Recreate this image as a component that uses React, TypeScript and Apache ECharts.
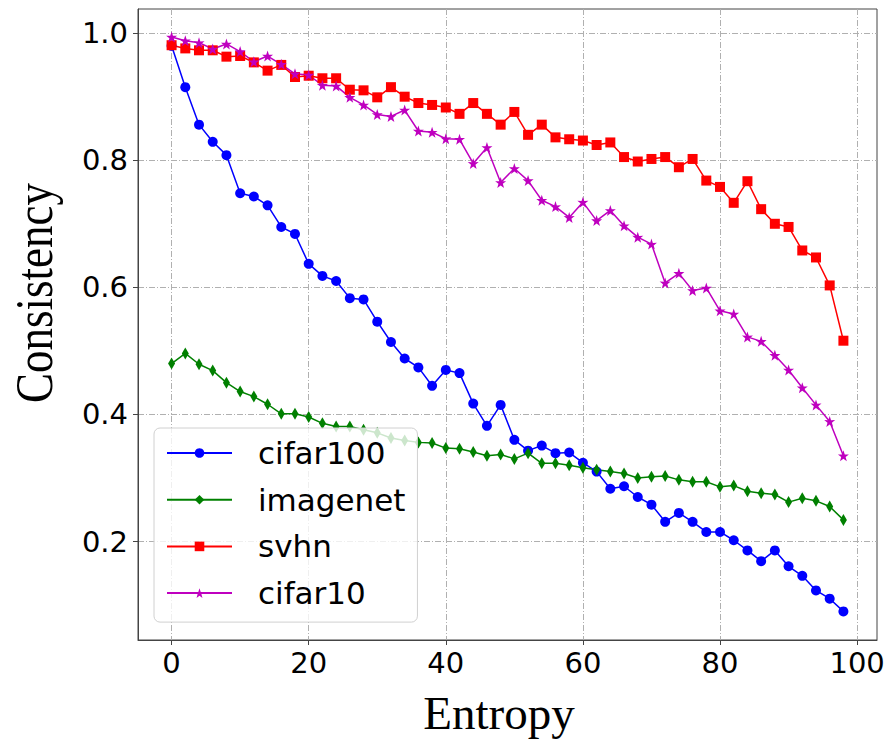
import React, { useEffect, useRef } from "react";
import * as echarts from "echarts";

const entropy = [0, 2, 4, 6, 8, 10, 12, 14, 16, 18, 20, 22, 24, 26, 28, 30, 32, 34, 36, 38, 40, 42, 44, 46, 48, 50, 52, 54, 56, 58, 60, 62, 64, 66, 68, 70, 72, 74, 76, 78, 80, 82, 84, 86, 88, 90, 92, 94, 96, 98];

const cifar100 = [0.980, 0.915, 0.856, 0.829, 0.808, 0.748, 0.743, 0.729, 0.695, 0.684, 0.637, 0.618, 0.610, 0.583, 0.581, 0.546, 0.514, 0.488, 0.474, 0.445, 0.470, 0.465, 0.417, 0.382, 0.415, 0.360, 0.343, 0.351, 0.339, 0.340, 0.324, 0.310, 0.283, 0.287, 0.270, 0.258, 0.231, 0.245, 0.231, 0.215, 0.215, 0.202, 0.186, 0.169, 0.186, 0.161, 0.146, 0.123, 0.110, 0.090];

const imagenet = [0.480, 0.496, 0.479, 0.469, 0.450, 0.436, 0.428, 0.416, 0.401, 0.401, 0.396, 0.386, 0.381, 0.381, 0.376, 0.371, 0.363, 0.359, 0.356, 0.355, 0.347, 0.346, 0.341, 0.335, 0.337, 0.330, 0.339, 0.323, 0.323, 0.320, 0.316, 0.313, 0.310, 0.307, 0.300, 0.302, 0.303, 0.297, 0.294, 0.294, 0.286, 0.288, 0.279, 0.276, 0.274, 0.262, 0.268, 0.264, 0.255, 0.234];

const svhn = [0.981, 0.976, 0.973, 0.973, 0.963, 0.964, 0.954, 0.941, 0.950, 0.931, 0.933, 0.929, 0.929, 0.911, 0.910, 0.899, 0.915, 0.900, 0.890, 0.887, 0.883, 0.873, 0.890, 0.873, 0.856, 0.876, 0.840, 0.856, 0.836, 0.833, 0.831, 0.824, 0.828, 0.805, 0.798, 0.802, 0.805, 0.789, 0.802, 0.768, 0.758, 0.733, 0.767, 0.723, 0.700, 0.695, 0.658, 0.647, 0.603, 0.516];

const cifar10 = [0.994, 0.988, 0.985, 0.975, 0.983, 0.971, 0.955, 0.964, 0.951, 0.936, 0.934, 0.918, 0.917, 0.899, 0.887, 0.872, 0.869, 0.879, 0.846, 0.844, 0.834, 0.833, 0.795, 0.820, 0.765, 0.787, 0.768, 0.737, 0.727, 0.710, 0.734, 0.705, 0.721, 0.697, 0.679, 0.668, 0.607, 0.622, 0.595, 0.599, 0.563, 0.558, 0.522, 0.515, 0.493, 0.470, 0.442, 0.415, 0.389, 0.335];

const xTicks = [0, 20, 40, 60, 80, 100];
const yTicks = [0.2, 0.4, 0.6, 0.8, 1.0];

const seriesNames = ["cifar100", "imagenet", "svhn", "cifar10"];

const STAR = "path://M50,0 L61.8,35.1 L97.6,34.5 L69,56.1 L79.4,90.5 L50,70 L20.6,90.5 L31,56.1 L2.4,34.5 L38.2,35.1 Z";

function pairs(ys: number[]) {
  return entropy.map((x, i) => [x, ys[i]]);
}

export default function App() {
  const ref = useRef<HTMLDivElement>(null);
  useEffect(() => {
    if (!ref.current) return;
    const chart = echarts.init(ref.current, null, { renderer: "svg" });
    const tickFont = { fontFamily: "DejaVu Sans", fontSize: 29, color: "#000" };
    const frame = "#444";
    const gridLine = { color: "#b0b0b0", width: 1, type: [6, 2, 1, 2] as any };
    const mk = (name: string, data: number[], color: string, symbol: string, size: any) => ({
      name,
      type: "line",
      data: pairs(data),
      symbol,
      symbolSize: size,
      showSymbol: true,
      lineStyle: { color, width: 1.5 },
      itemStyle: { color },
      emphasis: { disabled: true },
      clip: false,
    });
    chart.setOption({
      animation: false,
      backgroundColor: "#fff",
      grid: {
        left: 138,
        top: 9,
        right: 14,
        bottom: 100,
        show: true,
        borderColor: frame,
        borderWidth: 1,
        backgroundColor: "transparent",
      },
      xAxis: {
        type: "value",
        min: -4.9,
        max: 102.9,
        axisLine: { show: true, onZero: false, lineStyle: { color: frame, width: 1 } },
        axisTick: { show: true, length: 5, inside: false, customValues: xTicks, lineStyle: { color: frame } },
        axisLabel: { ...tickFont, margin: 8, customValues: xTicks, formatter: (v: number) => String(v) },
        splitLine: { show: true, lineStyle: gridLine },
      },
      yAxis: {
        type: "value",
        min: 0.045,
        max: 1.038,
        axisLine: { show: true, onZero: false, lineStyle: { color: frame, width: 1 } },
        axisTick: { show: true, length: 5, inside: false, customValues: yTicks, lineStyle: { color: frame } },
        axisLabel: { ...tickFont, margin: 10, customValues: yTicks, formatter: (v: number) => v.toFixed(1) },
        splitLine: { show: true, lineStyle: gridLine },
      },
      legend: {
        orient: "vertical",
        left: 154,
        top: 428,
        data: seriesNames,
        itemWidth: 65,
        itemHeight: 12,
        itemGap: 14.7,
        padding: [9, 12, 13, 12],
        backgroundColor: "rgba(255,255,255,0.8)",
        borderColor: "#d0d0d0",
        borderWidth: 1,
        borderRadius: 6,
        selectedMode: false,
        textStyle: {
          fontFamily: "DejaVu Sans",
          fontSize: 31,
          lineHeight: 32,
          color: "#000",
          padding: [0, 0, 0, 21],
        },
      },
      graphic: [
        {
          type: "text",
          x: 499,
          y: 713,
          style: {
            text: "Entropy",
            fontFamily: "Liberation Serif",
            fontSize: 47,
            fill: "#000",
            textAlign: "center",
            textVerticalAlign: "middle",
          },
        },
        {
          type: "text",
          x: 34,
          y: 293,
          rotation: Math.PI / 2,
          scaleY: 1.15,
          style: {
            text: "Consistency",
            fontFamily: "Liberation Serif",
            fontSize: 45,
            fill: "#000",
            textAlign: "center",
            textVerticalAlign: "middle",
          },
        },
      ],
      series: [
        mk("cifar100", cifar100, "#0000ff", "circle", 10),
        mk("imagenet", imagenet, "#008000", "diamond", [7, 12]),
        mk("svhn", svhn, "#ff0000", "rect", 10),
        mk("cifar10", cifar10, "#bf00bf", STAR, 11),
      ],
    });
    return () => chart.dispose();
  }, []);
  return (
    <div
      ref={ref}
      style={{ position: "absolute", left: 0, top: 0, width: 891, height: 740 }}
    />
  );
}
